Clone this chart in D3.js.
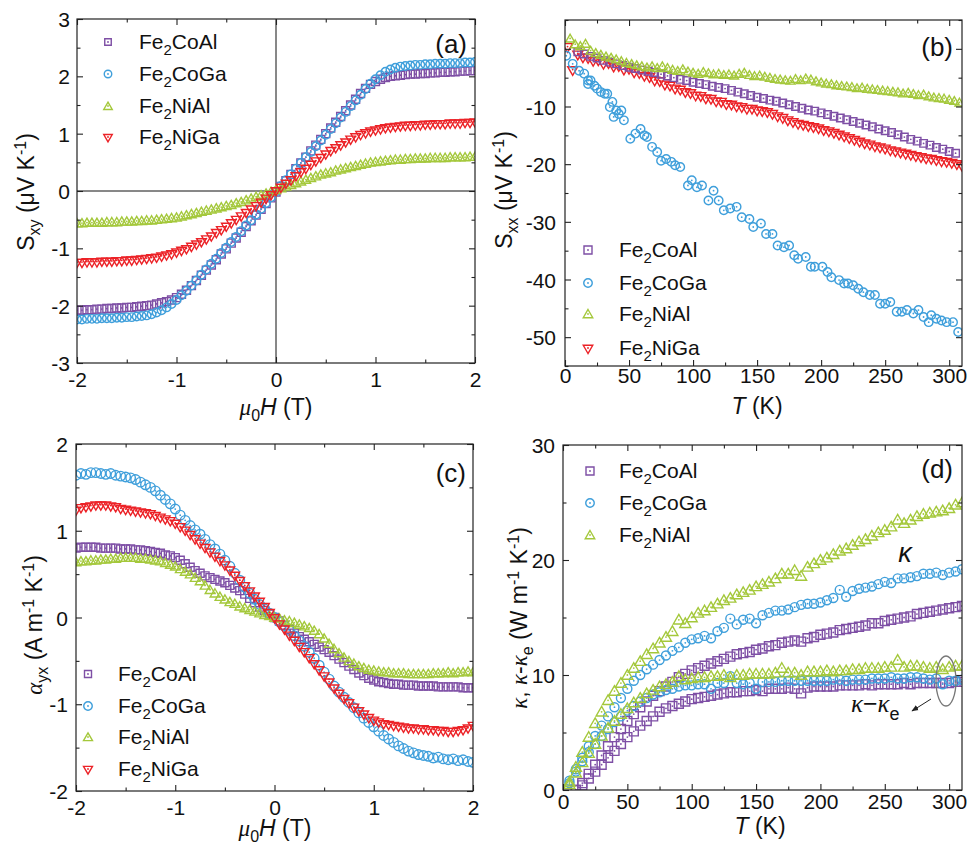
<!DOCTYPE html>
<html><head><meta charset="utf-8">
<script src="https://cdn.jsdelivr.net/npm/d3@7"></script>
<style>body{margin:0;background:#fff} text{font-family:"Liberation Sans",Arial,sans-serif;fill:#111}</style>
</head><body><script>
// ---------- categories ----------
const materials = ["Fe2CoAl","Fe2CoGa","Fe2NiAl","Fe2NiGa"];
const matColors = ["#7e4fa5","#3f9fdb","#a4c83b","#ec2227"];
const matSymbols = ["square","circle","triangle","triangleDown"];

// ---------- panel (a) & (c): field sweep ----------
const fieldH = [-2.00,-1.95,-1.90,-1.85,-1.80,-1.75,-1.70,-1.65,-1.60,-1.55,-1.50,-1.45,-1.40,-1.35,-1.30,-1.25,-1.20,-1.15,-1.10,-1.05,-1.00,-0.95,-0.90,-0.85,-0.80,-0.75,-0.70,-0.65,-0.60,-0.55,-0.50,-0.45,-0.40,-0.35,-0.30,-0.25,-0.20,-0.15,-0.10,-0.05,0.00,0.05,0.10,0.15,0.20,0.25,0.30,0.35,0.40,0.45,0.50,0.55,0.60,0.65,0.70,0.75,0.80,0.85,0.90,0.95,1.00,1.05,1.10,1.15,1.20,1.25,1.30,1.35,1.40,1.45,1.50,1.55,1.60,1.65,1.70,1.75,1.80,1.85,1.90,1.95,2.00];

const sxyCoAl = [-2.08,-2.08,-2.07,-2.07,-2.06,-2.06,-2.05,-2.05,-2.04,-2.04,-2.03,-2.03,-2.02,-2.01,-2.00,-1.99,-1.97,-1.95,-1.93,-1.90,-1.86,-1.80,-1.73,-1.65,-1.56,-1.47,-1.38,-1.29,-1.20,-1.10,-1.01,-0.91,-0.82,-0.72,-0.62,-0.52,-0.42,-0.32,-0.22,-0.12,-0.02,0.08,0.18,0.29,0.39,0.49,0.59,0.70,0.80,0.90,1.00,1.10,1.20,1.30,1.40,1.50,1.60,1.70,1.79,1.86,1.91,1.95,1.98,2.00,2.01,2.02,2.03,2.04,2.04,2.05,2.05,2.06,2.06,2.07,2.07,2.08,2.08,2.09,2.09,2.10,2.10];
const sxyCoGa = [-2.24,-2.24,-2.23,-2.23,-2.23,-2.22,-2.22,-2.22,-2.21,-2.21,-2.20,-2.20,-2.19,-2.18,-2.17,-2.15,-2.12,-2.08,-2.03,-1.97,-1.90,-1.82,-1.74,-1.65,-1.56,-1.46,-1.37,-1.27,-1.18,-1.08,-0.99,-0.89,-0.80,-0.70,-0.60,-0.51,-0.41,-0.31,-0.21,-0.11,-0.01,0.09,0.19,0.29,0.39,0.49,0.59,0.68,0.78,0.88,0.98,1.08,1.18,1.28,1.38,1.48,1.58,1.68,1.78,1.87,1.95,2.02,2.08,2.12,2.15,2.17,2.18,2.19,2.20,2.20,2.21,2.21,2.22,2.22,2.22,2.23,2.23,2.23,2.24,2.24,2.25];
const sxyNiAl = [-0.56,-0.56,-0.55,-0.55,-0.55,-0.55,-0.54,-0.54,-0.54,-0.53,-0.53,-0.53,-0.52,-0.52,-0.51,-0.51,-0.50,-0.49,-0.48,-0.47,-0.46,-0.44,-0.42,-0.40,-0.38,-0.36,-0.34,-0.32,-0.30,-0.28,-0.26,-0.24,-0.21,-0.19,-0.16,-0.13,-0.10,-0.07,-0.04,-0.01,0.02,0.05,0.08,0.11,0.14,0.17,0.20,0.23,0.26,0.29,0.31,0.33,0.36,0.38,0.40,0.42,0.44,0.46,0.48,0.50,0.51,0.52,0.53,0.54,0.55,0.55,0.56,0.56,0.57,0.57,0.57,0.58,0.58,0.58,0.58,0.59,0.59,0.59,0.59,0.60,0.60];
const sxyNiGa = [-1.24,-1.24,-1.23,-1.23,-1.23,-1.22,-1.22,-1.22,-1.21,-1.21,-1.20,-1.20,-1.19,-1.18,-1.17,-1.16,-1.15,-1.13,-1.11,-1.09,-1.06,-1.03,-1.00,-0.96,-0.92,-0.88,-0.83,-0.78,-0.72,-0.67,-0.61,-0.55,-0.49,-0.43,-0.37,-0.31,-0.25,-0.19,-0.12,-0.06,0.01,0.07,0.14,0.20,0.27,0.34,0.40,0.47,0.53,0.59,0.65,0.71,0.76,0.81,0.86,0.91,0.95,0.99,1.02,1.05,1.07,1.09,1.11,1.12,1.13,1.14,1.15,1.15,1.16,1.16,1.17,1.17,1.18,1.18,1.18,1.19,1.19,1.19,1.20,1.20,1.21];

const ayxCoAl = [0.80,0.81,0.81,0.81,0.81,0.80,0.80,0.80,0.80,0.79,0.79,0.79,0.78,0.78,0.77,0.76,0.75,0.74,0.72,0.71,0.69,0.66,0.62,0.58,0.54,0.51,0.48,0.46,0.44,0.42,0.40,0.37,0.34,0.31,0.27,0.22,0.17,0.12,0.08,0.04,0.00,-0.04,-0.09,-0.14,-0.18,-0.22,-0.25,-0.28,-0.31,-0.34,-0.37,-0.40,-0.44,-0.48,-0.52,-0.56,-0.60,-0.64,-0.67,-0.70,-0.72,-0.74,-0.75,-0.76,-0.77,-0.77,-0.78,-0.78,-0.78,-0.79,-0.79,-0.79,-0.79,-0.80,-0.80,-0.80,-0.80,-0.80,-0.81,-0.81,-0.81];
const ayxCoGa = [1.64,1.66,1.65,1.67,1.67,1.66,1.65,1.66,1.64,1.63,1.62,1.61,1.59,1.56,1.53,1.50,1.46,1.41,1.36,1.31,1.25,1.18,1.12,1.06,1.01,0.96,0.90,0.84,0.79,0.73,0.66,0.59,0.51,0.43,0.35,0.28,0.21,0.15,0.10,0.05,0.00,-0.05,-0.10,-0.15,-0.21,-0.27,-0.33,-0.40,-0.47,-0.55,-0.63,-0.71,-0.79,-0.86,-0.92,-0.98,-1.04,-1.10,-1.16,-1.21,-1.26,-1.31,-1.36,-1.40,-1.44,-1.48,-1.51,-1.54,-1.56,-1.58,-1.59,-1.60,-1.62,-1.61,-1.63,-1.64,-1.63,-1.65,-1.64,-1.66,-1.67];
const ayxNiAl = [0.64,0.65,0.65,0.66,0.66,0.67,0.67,0.68,0.68,0.69,0.69,0.69,0.69,0.68,0.68,0.67,0.66,0.65,0.63,0.61,0.59,0.56,0.53,0.50,0.46,0.42,0.37,0.32,0.28,0.24,0.21,0.18,0.16,0.13,0.11,0.09,0.07,0.05,0.03,0.02,0.00,-0.01,-0.03,-0.04,-0.06,-0.08,-0.10,-0.12,-0.15,-0.19,-0.24,-0.30,-0.36,-0.41,-0.46,-0.50,-0.53,-0.56,-0.58,-0.60,-0.61,-0.62,-0.63,-0.63,-0.64,-0.64,-0.64,-0.65,-0.65,-0.65,-0.65,-0.65,-0.64,-0.64,-0.64,-0.63,-0.64,-0.63,-0.63,-0.62,-0.63];
const ayxNiGa = [1.24,1.27,1.28,1.29,1.30,1.30,1.30,1.29,1.28,1.26,1.25,1.24,1.23,1.22,1.21,1.20,1.18,1.16,1.14,1.12,1.09,1.05,1.01,0.96,0.91,0.86,0.81,0.76,0.71,0.66,0.61,0.55,0.49,0.43,0.37,0.31,0.25,0.19,0.13,0.06,0.00,-0.07,-0.13,-0.20,-0.26,-0.33,-0.39,-0.46,-0.53,-0.60,-0.67,-0.74,-0.81,-0.87,-0.93,-0.98,-1.03,-1.07,-1.11,-1.15,-1.18,-1.20,-1.22,-1.23,-1.24,-1.25,-1.26,-1.27,-1.27,-1.28,-1.28,-1.29,-1.29,-1.30,-1.30,-1.31,-1.31,-1.30,-1.29,-1.27,-1.24];

// ---------- panel (b): Sxx vs T ----------
const tSxxCoAl = [10,15,20,25,30,35,40,45,50,55,60,65,70,75,80,85,90,95,100,105,110,115,120,125,130,135,140,145,150,155,160,165,170,175,180,185,190,195,200,205,210,215,220,225,230,235,240,245,250,255,260,265,270,275,280,285,290,295,300,305];
const sxxCoAl = [-0.5,-0.9,-1.3,-1.6,-2.0,-2.3,-2.6,-2.9,-3.2,-3.4,-3.7,-3.9,-4.1,-4.4,-4.7,-5.0,-5.3,-5.5,-5.8,-6.0,-6.2,-6.5,-6.7,-6.9,-7.2,-7.5,-7.8,-8.1,-8.4,-8.6,-8.9,-9.1,-9.4,-9.7,-10.0,-10.3,-10.6,-10.8,-11.1,-11.4,-11.7,-12.0,-12.3,-12.6,-12.9,-13.2,-13.5,-13.9,-14.2,-14.5,-14.9,-15.3,-15.7,-16.0,-16.4,-16.7,-17.1,-17.4,-17.8,-18.1];
const tSxxCoGa = [1,6,11,15,18,18,20,23,25,28,31,33,35,37,38,40,42,44,46,51,55,59,62,64,68,72,75,79,83,86,90,96,99,103,107,112,116,120,124,129,134,138,144,147,153,157,162,166,171,175,179,182,188,192,195,201,205,208,214,218,221,225,229,233,238,242,246,250,254,259,263,267,272,276,280,284,286,290,294,298,303,307];
const sxxCoGa = [-1.2,-2.6,-3.8,-4.3,-5.5,-6.1,-5.5,-6.4,-6.9,-7.5,-7.8,-7.8,-10.1,-9.2,-11.8,-10.7,-11.3,-10.7,-12.4,-15.6,-14.7,-13.9,-15.0,-15.3,-17.0,-17.9,-19.4,-19.1,-19.6,-20.2,-20.5,-23.7,-22.8,-24.0,-23.7,-26.3,-24.6,-26.3,-28.0,-27.7,-27.4,-29.2,-29.5,-30.9,-30.3,-32.1,-32.1,-34.1,-34.4,-34.1,-35.8,-36.4,-36.1,-37.8,-37.8,-37.8,-38.7,-39.6,-40.1,-40.7,-40.7,-41.0,-41.6,-42.2,-42.7,-42.7,-44.2,-44.2,-43.9,-45.6,-45.6,-45.3,-45.9,-45.3,-46.5,-47.4,-46.2,-46.8,-47.1,-47.4,-47.4,-49.1];
const tSxxNiAl = [4,8,12,16,20,24,28,32,36,40,44,48,52,56,60,64,68,72,76,80,84,88,92,96,100,104,108,112,116,120,124,128,132,136,140,144,148,152,156,160,164,168,172,176,180,184,188,192,196,200,204,208,212,216,220,224,228,232,236,240,244,248,252,256,260,264,268,272,276,280,284,288,292,296,300,304,308];
const sxxNiAl = [1.8,0.8,0.5,0.9,-0.3,-0.7,-1.0,-1.3,-1.5,-1.8,-2.1,-2.4,-2.6,-2.8,-3.0,-3.2,-3.0,-3.3,-3.0,-3.3,-3.6,-3.8,-3.5,-3.9,-4.1,-4.3,-4.0,-4.2,-4.4,-4.3,-4.5,-4.4,-4.6,-4.3,-4.1,-4.5,-4.7,-4.6,-4.8,-5.0,-5.2,-5.3,-5.4,-5.5,-5.2,-5.4,-5.1,-5.3,-5.6,-5.8,-6.0,-6.1,-6.3,-6.4,-6.5,-6.6,-6.8,-6.7,-6.9,-7.0,-7.1,-7.2,-7.3,-7.4,-7.5,-7.7,-7.6,-7.8,-8.0,-7.9,-8.2,-8.4,-8.5,-8.6,-8.8,-9.0,-9.3];
const tSxxNiGa = [2,6,10,14,18,22,26,30,34,38,42,46,50,54,58,62,66,70,74,78,82,86,90,94,98,102,106,110,114,118,122,126,130,134,138,142,146,150,154,158,162,166,170,174,178,182,186,190,194,198,202,206,210,214,218,222,226,230,234,238,242,246,250,254,258,262,266,270,274,278,282,286,290,294,298,302,306,310];
const sxxNiGa = [0.4,-3.6,-0.9,-1.4,-1.5,-2.0,-1.9,-2.5,-2.4,-3.0,-2.9,-3.5,-3.4,-4.0,-4.1,-4.6,-4.8,-5.4,-5.5,-6.1,-6.3,-6.8,-7.0,-7.4,-7.6,-8.0,-8.1,-8.5,-8.6,-9.0,-9.1,-9.5,-9.6,-9.9,-10.0,-10.3,-10.3,-10.6,-10.7,-10.9,-11.2,-11.6,-11.9,-12.3,-12.6,-12.9,-13.1,-13.3,-13.5,-13.7,-14.0,-14.2,-14.5,-14.8,-15.1,-15.4,-15.7,-16.0,-16.3,-16.5,-16.8,-17.0,-17.2,-17.5,-17.7,-17.9,-18.1,-18.3,-18.5,-18.7,-18.9,-19.0,-19.2,-19.4,-19.5,-19.7,-19.9,-20.2];

// ---------- panel (d): kappa vs T ----------
const tKappa = [5,10,15,20,25,30,35,40,45,50,55,60,65,70,75,80,85,90,95,100,105,110,115,120,125,130,135,140,145,150,155,160,165,170,175,180,185,190,195,200,205,210,215,220,225,230,235,240,245,250,255,260,265,270,275,280,285,290,295,300,305,310];
const kapCoAl = [null,0.0,0.6,1.4,2.2,3.0,3.8,4.6,5.3,6.0,6.6,7.2,7.7,8.2,8.6,9.0,9.4,9.8,10.1,10.4,10.6,10.8,11.0,11.2,11.4,11.6,11.8,11.9,12.0,12.2,12.3,12.5,12.6,12.8,12.9,13.0,12.9,13.2,13.3,13.5,13.6,13.7,13.9,14.0,14.1,14.2,14.3,14.5,14.5,14.7,14.8,14.9,15.0,15.1,15.3,15.4,15.5,15.6,15.7,15.8,15.9,16.0];
const kapLatCoAl = [null,0.0,0.4,1.0,1.6,2.2,2.8,3.4,4.0,4.6,5.1,5.6,6.0,6.4,6.8,7.1,7.3,7.5,7.7,7.9,8.0,8.1,8.2,8.3,8.4,8.5,8.5,8.6,8.6,8.7,8.6,8.8,8.8,8.8,8.9,8.8,8.4,8.9,9.0,9.0,9.0,9.0,9.1,9.1,9.1,9.1,9.2,9.1,9.2,9.2,9.2,9.2,9.3,9.2,9.3,9.3,9.3,9.3,9.3,9.3,9.4,9.4];
const kapCoGa = [0.8,1.8,2.8,3.8,4.7,5.6,6.4,7.2,8.0,8.8,9.5,10.0,10.5,10.9,11.3,11.7,12.1,12.4,12.8,13.1,13.2,13.4,13.2,13.8,14.1,14.9,14.4,14.8,14.9,14.5,15.2,15.4,15.6,15.6,15.7,15.9,16.1,16.2,16.2,16.3,16.5,16.7,17.4,16.8,17.3,17.5,17.6,17.7,17.9,18.1,18.0,18.4,18.4,18.5,18.6,18.8,18.8,18.9,18.7,18.9,19.0,19.2];
const kapLatCoGa = [0.6,1.6,2.5,3.3,4.0,4.7,5.3,5.9,6.4,6.9,7.3,7.7,8.0,8.3,8.5,8.7,8.8,9.0,9.1,9.1,9.2,9.2,8.8,9.3,9.3,9.9,9.3,9.2,9.3,8.8,9.4,9.4,9.4,9.5,9.5,9.5,9.5,9.5,9.5,9.5,9.5,9.6,9.6,9.5,9.6,9.6,9.6,9.7,9.7,9.7,9.8,9.7,9.7,9.8,9.8,9.7,9.6,9.7,9.2,9.5,9.5,9.6];
const kapNiAl = [0.7,2.0,3.3,4.6,5.8,6.8,7.8,8.6,9.3,10.0,10.6,11.2,11.8,12.3,12.8,13.3,13.8,14.8,14.5,15.0,15.4,15.6,15.9,16.2,16.5,16.7,17.0,17.2,17.4,17.7,17.9,18.1,18.4,18.8,18.8,19.1,18.6,19.4,19.7,20.0,20.2,20.5,20.8,21.0,21.3,21.6,21.8,22.1,22.4,22.6,22.9,23.5,23.2,23.5,23.8,24.0,24.1,24.2,24.3,24.5,24.8,25.0];
const kapLatNiAl = [0.5,1.5,2.4,3.2,4.0,4.7,5.4,6.0,6.6,7.1,7.6,8.0,8.4,8.7,9.0,9.2,9.4,9.9,9.6,9.7,9.8,9.8,9.9,9.9,10.0,9.8,10.0,10.0,10.1,10.1,10.1,10.1,10.2,10.6,10.2,10.2,10.0,10.3,10.3,10.3,10.4,10.3,10.4,10.4,10.5,10.5,10.6,10.6,10.6,10.7,10.7,11.3,10.7,10.8,10.8,10.7,10.6,10.7,10.5,10.7,10.8,10.8];

// ---------- tick values ----------
const ticksA_x = [-2,-1,0,1,2], ticksA_y = [-3,-2,-1,0,1,2,3];
const ticksB_x = [0,50,100,150,200,250,300], ticksB_y = [0,-10,-20,-30,-40,-50];
const ticksC_x = [-2,-1,0,1,2], ticksC_y = [-2,-1,0,1,2];
const ticksD_x = [0,50,100,150,200,250,300], ticksD_y = [0,10,20,30];

// ================= drawing =================
const svg = d3.select("body").append("svg").attr("width",968).attr("height",847);
const FS = 21;

function mk(type, size){
  const t = {square:d3.symbolSquare, circle:d3.symbolCircle, triangle:d3.symbolTriangle, triangleDown:d3.symbolTriangle}[type];
  let area;
  if(type==="square") area=size*size;
  else if(type==="circle") area=Math.PI*size*size/4;
  else area=size*size*Math.sqrt(3)/4;
  return d3.symbol().type(t).size(area)();
}

function drawSeries(g, xs, ys, sx, sy, type, color, size, sw){
  const pts = xs.map((x,i)=>({x, y:ys[i]})).filter(d=>d.y!==null);
  const path = mk(type,size);
  const sel = g.append("g").selectAll("g").data(pts).join("g")
    .attr("transform", d=>`translate(${sx(d.x)},${sy(d.y)})`);
  sel.append("path").attr("d",path).attr("fill","none").attr("stroke",color).attr("stroke-width",sw)
    .attr("transform", type==="triangleDown"?"rotate(180)":(type==="triangle"?"translate(0,1)":null));
  sel.append("circle").attr("r",0.9).attr("fill",color);
}

function panel(cfg){
  const g = svg.append("g");
  const sx = d3.scaleLinear().domain(cfg.xd).range([cfg.x0,cfg.x1]);
  const sy = d3.scaleLinear().domain(cfg.yd).range([cfg.y1,cfg.y0]);
  const clipId = "clip"+cfg.id;
  svg.append("clipPath").attr("id",clipId).append("rect")
    .attr("x",cfg.x0).attr("y",cfg.y0).attr("width",cfg.x1-cfg.x0).attr("height",cfg.y1-cfg.y0);
  const dg = g.append("g").attr("clip-path",`url(#${clipId})`);
  if(cfg.cross){
    dg.append("line").attr("x1",sx(0)).attr("x2",sx(0)).attr("y1",cfg.y0).attr("y2",cfg.y1).attr("stroke","#111").attr("stroke-width",1);
    dg.append("line").attr("x1",cfg.x0).attr("x2",cfg.x1).attr("y1",sy(0)).attr("y2",sy(0)).attr("stroke","#111").attr("stroke-width",1);
  }
  cfg.series.forEach(s=>drawSeries(dg, s.x, s.y, sx, sy, s.type, s.color, s.size, s.sw||1.4));
  // axes
  const ax = g.append("g");
  const fmt = d=>String(d);
  const styleAxis = a => { a.select(".domain").remove(); a.selectAll("line").attr("stroke","#222").attr("stroke-width",1.1); };
  const bot = ax.append("g").attr("transform",`translate(0,${cfg.y1})`)
    .call(d3.axisBottom(sx).tickValues(cfg.xt).tickSizeInner(-6).tickSizeOuter(0).tickFormat(fmt));
  bot.attr("font-family",null).attr("font-size",null);
  bot.selectAll("text").attr("y",cfg.xlabY-cfg.y1).attr("dy",0).attr("font-size",FS).attr("fill","#111");
  styleAxis(bot);
  const botm = ax.append("g").attr("transform",`translate(0,${cfg.y1})`)
    .call(d3.axisBottom(sx).tickValues(cfg.xm).tickSizeInner(-3.5).tickSizeOuter(0).tickFormat(""));
  styleAxis(botm);
  const top = ax.append("g").attr("transform",`translate(0,${cfg.y0})`)
    .call(d3.axisTop(sx).tickValues(cfg.xt).tickSizeInner(-6).tickSizeOuter(0).tickFormat(""));
  styleAxis(top);
  const topm = ax.append("g").attr("transform",`translate(0,${cfg.y0})`)
    .call(d3.axisTop(sx).tickValues(cfg.xm).tickSizeInner(-3.5).tickSizeOuter(0).tickFormat(""));
  styleAxis(topm);
  const lef = ax.append("g").attr("transform",`translate(${cfg.x0},0)`)
    .call(d3.axisLeft(sy).tickValues(cfg.yt).tickSizeInner(-6).tickSizeOuter(0).tickFormat(fmt));
  lef.attr("font-family",null).attr("font-size",null);
  lef.selectAll("text").attr("x",-cfg.ylabGap).attr("dy","0.36em").attr("font-size",FS).attr("fill","#111");
  styleAxis(lef);
  const lefm = ax.append("g").attr("transform",`translate(${cfg.x0},0)`)
    .call(d3.axisLeft(sy).tickValues(cfg.ym).tickSizeInner(-3.5).tickSizeOuter(0).tickFormat(""));
  styleAxis(lefm);
  const rig = ax.append("g").attr("transform",`translate(${cfg.x1},0)`)
    .call(d3.axisRight(sy).tickValues(cfg.yt).tickSizeInner(-6).tickSizeOuter(0).tickFormat(""));
  styleAxis(rig);
  const rigm = ax.append("g").attr("transform",`translate(${cfg.x1},0)`)
    .call(d3.axisRight(sy).tickValues(cfg.ym).tickSizeInner(-3.5).tickSizeOuter(0).tickFormat(""));
  styleAxis(rigm);
  g.append("rect").attr("x",cfg.x0).attr("y",cfg.y0).attr("width",cfg.x1-cfg.x0).attr("height",cfg.y1-cfg.y0)
    .attr("fill","none").attr("stroke","#222").attr("stroke-width",1.2);
  // panel label
  g.append("text").attr("x",cfg.labX).attr("y",cfg.labY).attr("text-anchor","end").attr("font-size",26).text(cfg.label);
  // legend
  cfg.legend.forEach((l,i)=>{
    const y = cfg.legY[i];
    const lg = g.append("g").attr("transform",`translate(${cfg.legX},${y})`);
    lg.append("path").attr("d",mk(l.type,l.size)).attr("fill","none").attr("stroke",l.color).attr("stroke-width",1.4)
      .attr("transform", l.type==="triangleDown"?"rotate(180)":(l.type==="triangle"?"translate(0,1)":null));
    lg.append("circle").attr("r",0.9).attr("fill",l.color);
    const t = g.append("text").attr("x",cfg.legTX).attr("y",y+7).attr("font-size",FS);
    t.append("tspan").text("Fe");
    t.append("tspan").attr("font-size",15).attr("dy",6).text("2");
    t.append("tspan").attr("dy",-6).text(l.name.slice(3));
  });
  return g;
}

function ser(xs, ys, i, size){ return {x:xs, y:ys, type:matSymbols[i], color:matColors[i], size:size}; }
function leg(i, size){ return {name:materials[i], type:matSymbols[i], color:matColors[i], size:size}; }

// ---- panel (a)
panel({id:"a", x0:77,x1:475,y0:19,y1:363, xd:[-2,2], yd:[-3,3],
  xt:ticksA_x, xm:[-1.5,-0.5,0.5,1.5], yt:ticksA_y, ym:[-2.5,-1.5,-0.5,0.5,1.5,2.5],
  xlabY:387, ylabGap:7, cross:true, label:"(a)", labX:467, labY:53,
  series:[ser(fieldH,sxyCoAl,0,8), ser(fieldH,sxyCoGa,1,8.5), ser(fieldH,sxyNiAl,2,9.5), ser(fieldH,sxyNiGa,3,9.5)],
  legend:[leg(0,6.5),leg(1,7.5),leg(2,8.5),leg(3,8.5)], legX:108, legY:[42,74,106,137], legTX:139});

// ---- panel (b)
panel({id:"b", x0:565,x1:962,y0:20,y1:366, xd:[0,310], yd:[-55,5],
  xt:ticksB_x, xm:[25,75,125,175,225,275], yt:ticksB_y, ym:[5,-5,-15,-25,-35,-45,-55],
  xlabY:383, ylabGap:9, label:"(b)", labX:953, labY:56,
  series:[ser(tSxxNiGa,sxxNiGa,3,10), ser(tSxxCoAl,sxxCoAl,0,7.5), ser(tSxxCoGa,sxxCoGa,1,8.5), ser(tSxxNiAl,sxxNiAl,2,9)],
  legend:[leg(0,8),leg(1,8.5),leg(2,9.5),leg(3,9.5)], legX:588, legY:[250,283,314,348], legTX:619});

// ---- panel (c)
panel({id:"c", x0:76,x1:473,y0:444,y1:791, xd:[-2,2], yd:[-2,2],
  xt:ticksC_x, xm:[-1.5,-0.5,0.5,1.5], yt:ticksC_y, ym:[-1.5,-0.5,0.5,1.5],
  xlabY:815, ylabGap:8, label:"(c)", labX:466, labY:482,
  series:[ser(fieldH,ayxCoAl,0,8), ser(fieldH,ayxCoGa,1,9.5), ser(fieldH,ayxNiAl,2,9.5), ser(fieldH,ayxNiGa,3,9.5)],
  legend:[leg(0,7),leg(1,8.5),leg(2,9),leg(3,9)], legX:88, legY:[674,706,737,769], legTX:118});

// ---- panel (d)
panel({id:"d", x0:563,x1:962,y0:445,y1:790, xd:[0,310], yd:[0,30],
  xt:ticksD_x, xm:[25,75,125,175,225,275], yt:ticksD_y, ym:[5,15,25],
  xlabY:809, ylabGap:8, label:"(d)", labX:953, labY:478,
  series:[ser(tKappa,kapCoAl,0,9), ser(tKappa,kapLatCoAl,0,9), ser(tKappa,kapCoGa,1,9), ser(tKappa,kapLatCoGa,1,9), ser(tKappa,kapNiAl,2,11), ser(tKappa,kapLatNiAl,2,11)],
  legend:[leg(0,8),leg(1,8.5),leg(2,9.5)], legX:590, legY:[471,503,535], legTX:619});

// annotations in (d)
svg.append("text").attr("x",905).attr("y",562).attr("text-anchor","middle").attr("font-size",27)
  .attr("font-family","Liberation Serif").attr("font-style","italic").text("κ");
const kk = svg.append("text").attr("x",851).attr("y",712).attr("font-size",25);
kk.append("tspan").attr("font-family","Liberation Serif").attr("font-style","italic").text("κ");
kk.append("tspan").text("−");
kk.append("tspan").attr("font-family","Liberation Serif").attr("font-style","italic").text("κ");
kk.append("tspan").attr("font-size",18).attr("dy",8).text("e");
svg.append("ellipse").attr("cx",946).attr("cy",681).attr("rx",10).attr("ry",25).attr("fill","none").attr("stroke","#777").attr("stroke-width",1.3);
svg.append("defs").append("marker").attr("id","arr").attr("viewBox","0 0 10 10").attr("refX",9).attr("refY",5)
  .attr("markerWidth",7).attr("markerHeight",7).attr("orient","auto")
  .append("path").attr("d","M0,1 L10,5 L0,9 Z").attr("fill","#222");
svg.append("line").attr("x1",931).attr("y1",699).attr("x2",912).attr("y2",711).attr("stroke","#222").attr("stroke-width",1).attr("marker-end","url(#arr)");

// axis titles
function ytitle(x,y,parts){
  const t = svg.append("text").attr("transform",`translate(${x},${y}) rotate(-90)`).attr("text-anchor","middle").attr("font-size",23);
  parts.forEach(p=>{ const s=t.append("tspan").text(p.t); if(p.it){s.attr("font-style","italic").attr("font-family","Liberation Serif");} if(p.dy) s.attr("dy",p.dy); if(p.fs) s.attr("font-size",p.fs); });
}
ytitle(34,192,[{t:"S"},{t:"xy",fs:16,dy:6},{t:" (μV K",dy:-6},{t:"-1",fs:16,dy:-8},{t:")",dy:8}]);
ytitle(512,190,[{t:"S"},{t:"xx",fs:16,dy:6},{t:" (μV K",dy:-6},{t:"-1",fs:16,dy:-8},{t:")",dy:8}]);
ytitle(42,625,[{t:"α",it:true},{t:"yx",fs:16,dy:6},{t:" (A m",dy:-6},{t:"-1",fs:16,dy:-8},{t:" K",dy:8},{t:"-1",fs:16,dy:-8},{t:")",dy:8}]);
ytitle(527,618,[{t:"κ",it:true},{t:", "},{t:"κ",it:true},{t:"-"},{t:"κ",it:true},{t:"e",fs:16,dy:6},{t:" (W m",dy:-6},{t:"-1",fs:16,dy:-8},{t:" K",dy:8},{t:"-1",fs:16,dy:-8},{t:")",dy:8}]);

function xtitleMu(cx,y){
  const t = svg.append("text").attr("x",cx).attr("y",y).attr("text-anchor","middle").attr("font-size",23);
  t.append("tspan").attr("font-style","italic").attr("font-family","Liberation Serif").text("μ");
  t.append("tspan").attr("font-size",16).attr("dy",6).text("0");
  t.append("tspan").attr("dy",-6).attr("font-style","italic").text("H");
  t.append("tspan").text(" (T)");
}
function xtitleT(cx,y){
  const t = svg.append("text").attr("x",cx).attr("y",y).attr("text-anchor","middle").attr("font-size",23);
  t.append("tspan").attr("font-style","italic").text("T");
  t.append("tspan").text(" (K)");
}
xtitleMu(276,415); xtitleT(757,414); xtitleMu(275,836); xtitleT(760,834);
</script></body></html>
